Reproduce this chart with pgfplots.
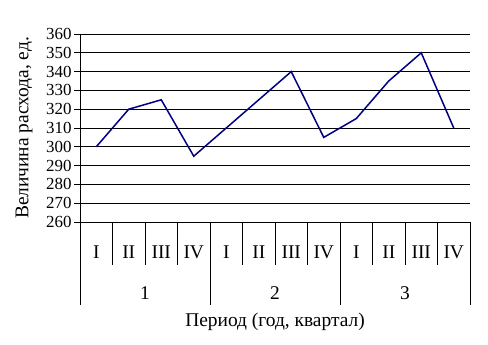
\documentclass[border=0pt]{standalone}
\usepackage{fontspec}
\setmainfont{Liberation Serif}
\usepackage{pgfplots}
\pgfplotsset{compat=1.18}
\definecolor{linenavy}{RGB}{0,0,128}
\begin{document}
\begin{tikzpicture}
\useasboundingbox (-80bp,-123bp) rectangle (408bp,222bp);
\begin{axis}[
  scale only axis, width=390bp, height=188bp,
  at={(0,0)}, anchor=south west,
  xmin=0, xmax=12, ymin=260, ymax=360,
  clip=false,
  axis lines*=left,
  axis line style={black, line width=0.9bp},
  ytick={260,270,...,360},
  xtick=\empty,
  ymajorgrids, grid style={black, line width=0.9bp},
  ytick style={black, line width=0.9bp},
  tick align=outside, major tick length=6bp,
  /pgf/number format/assume math mode=true,
  yticklabel style={font=\fontsize{17}{18}\selectfont, xshift=1bp},
  ylabel={Величина расхода, ед.},
  ylabel style={at={(axis description cs:-0.1436,0.5)}, anchor=center, font=\fontsize{19.5}{21}\selectfont},
  xlabel={Период (год, квартал)},
  xlabel style={at={(axis description cs:0.5,0)}, anchor=center, yshift=-100bp, font=\fontsize{19.5}{21}\selectfont},
]
\addplot[linenavy, line width=1.5bp, mark=none] coordinates {
(0.5,300) (1.5,320) (2.5,325) (3.5,295)
(4.5,310) (5.5,325) (6.5,340) (7.5,305)
(8.5,315) (9.5,335) (10.5,350) (11.5,310)
};
\pgfplotsinvokeforeach{1,2,3,5,6,7,9,10,11}{\draw[black, line width=0.9bp] (axis cs:#1,260) -- ([yshift=-43bp]axis cs:#1,260);}
\pgfplotsinvokeforeach{0,4,8,12}{\draw[black, line width=0.9bp] (axis cs:#1,260) -- ([yshift=-83bp]axis cs:#1,260);}
\tikzset{qlab/.style={font=\fontsize{19.5}{21}\selectfont, anchor=center, yshift=-30bp}}
\node[qlab] at (axis cs:0.5,260) {I};
\node[qlab] at (axis cs:1.5,260) {II};
\node[qlab] at (axis cs:2.5,260) {III};
\node[qlab] at (axis cs:3.5,260) {IV};
\node[qlab] at (axis cs:4.5,260) {I};
\node[qlab] at (axis cs:5.5,260) {II};
\node[qlab] at (axis cs:6.5,260) {III};
\node[qlab] at (axis cs:7.5,260) {IV};
\node[qlab] at (axis cs:8.5,260) {I};
\node[qlab] at (axis cs:9.5,260) {II};
\node[qlab] at (axis cs:10.5,260) {III};
\node[qlab] at (axis cs:11.5,260) {IV};
\tikzset{ylab/.style={font=\fontsize{19.5}{21}\selectfont, anchor=center, yshift=-71bp}}
\node[ylab] at (axis cs:2,260) {1};
\node[ylab] at (axis cs:6,260) {2};
\node[ylab] at (axis cs:10,260) {3};
\end{axis}
\end{tikzpicture}
\end{document}
